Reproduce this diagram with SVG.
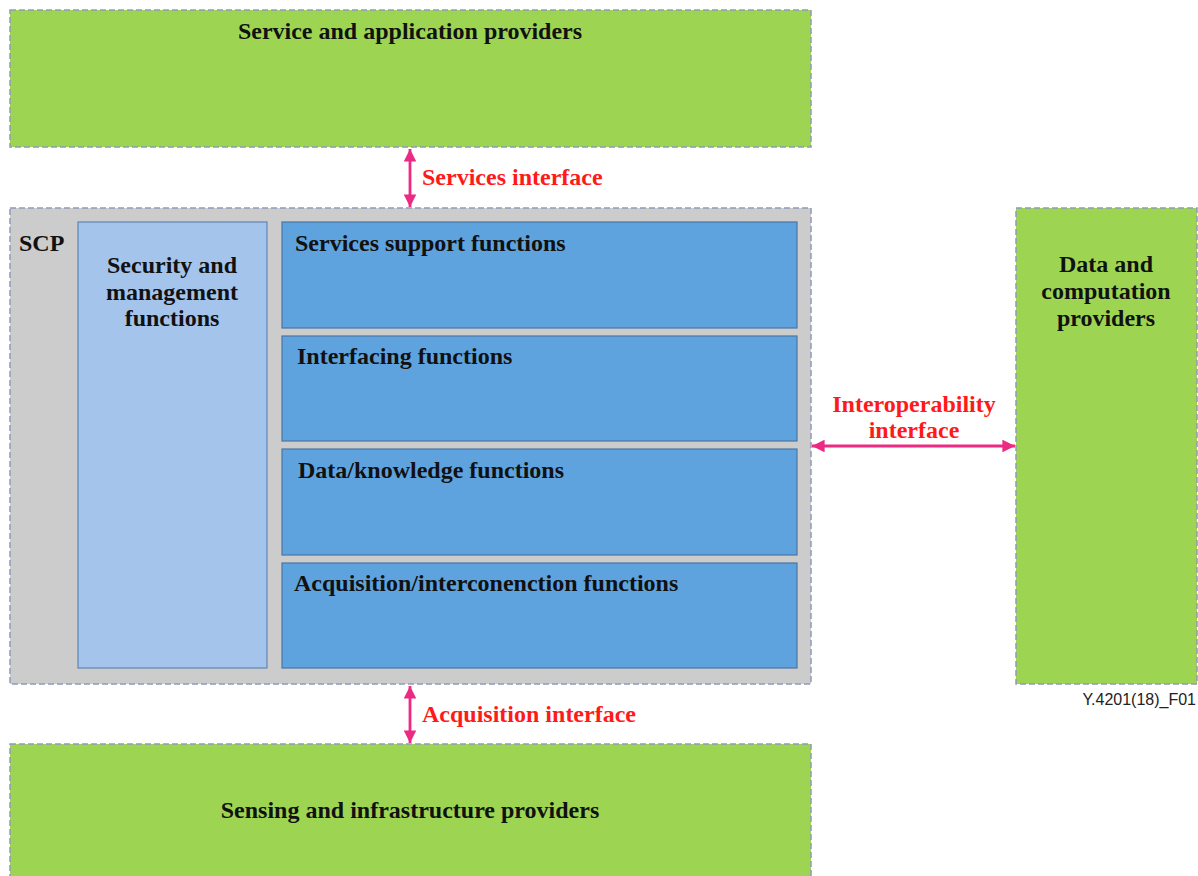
<svg xmlns="http://www.w3.org/2000/svg" width="1198" height="876" viewBox="0 0 1198 876">
  <defs>
    <style>
      .prov { fill: #9dd552; stroke: #8e9bb8; stroke-width: 1.5; stroke-dasharray: 6 3; }
      .scp { fill: #cccccc; stroke: #8e9bb8; stroke-width: 1.5; stroke-dasharray: 6 3; }
      .mgmt { fill: #a4c4ec; stroke: #5f86b4; stroke-width: 1.2; }
      .func { fill: #5fa3de; stroke: #4a76a4; stroke-width: 1.2; }
      .t { font-family: "Liberation Serif", "Times New Roman", serif; font-weight: bold; font-size: 24px; fill: #111111; }
      .c { text-anchor: middle; }
      .if { font-family: "Liberation Serif", "Times New Roman", serif; font-weight: bold; font-size: 24px; fill: #ff1a1a; }
      .conn { stroke: #ec2a84; stroke-width: 2.8; fill: none; marker-start: url(#ah); marker-end: url(#ah); }
      .ref { font-family: "Liberation Sans", Arial, sans-serif; font-size: 16px; fill: #222222; text-anchor: end; }
    </style>
    <marker id="ah" viewBox="0 0 10 10" refX="10" refY="5" markerWidth="4.5" markerHeight="4.5" orient="auto-start-reverse" markerUnits="strokeWidth">
      <path d="M0,0 L10,5 L0,10 z" fill="#ec2a84"/>
    </marker>
  </defs>

  <g id="service-providers">
    <rect class="prov" x="10" y="10" width="801" height="137"/>
    <text class="t c" x="410" y="39">Service and application providers</text>
  </g>

  <g id="scp">
    <rect class="scp" x="10" y="208" width="801" height="476"/>
    <text class="t" x="19" y="251">SCP</text>
  </g>

  <g id="security-management">
    <rect class="mgmt" x="78" y="222" width="189" height="446"/>
    <text class="t c" x="172" y="273">Security and</text>
    <text class="t c" x="172" y="300">management</text>
    <text class="t c" x="172" y="326">functions</text>
  </g>

  <g id="services-support">
    <rect class="func" x="282" y="222" width="515" height="106"/>
    <text class="t" x="295" y="251">Services support functions</text>
  </g>

  <g id="interfacing">
    <rect class="func" x="282" y="336" width="515" height="105"/>
    <text class="t" x="297" y="364">Interfacing functions</text>
  </g>

  <g id="data-knowledge">
    <rect class="func" x="282" y="449" width="515" height="106"/>
    <text class="t" x="298" y="478">Data/knowledge functions</text>
  </g>

  <g id="acquisition-interconnection">
    <rect class="func" x="282" y="563" width="515" height="105"/>
    <text class="t" x="294" y="591">Acquisition/interconenction functions</text>
  </g>

  <g id="data-computation-providers">
    <rect class="prov" x="1016" y="208" width="181" height="476"/>
    <text class="t c" x="1106" y="272">Data and</text>
    <text class="t c" x="1106" y="299">computation</text>
    <text class="t c" x="1106" y="326">providers</text>
  </g>

  <g id="sensing-providers">
    <rect class="prov" x="10" y="744" width="801" height="140"/>
    <text class="t c" x="410" y="818">Sensing and infrastructure providers</text>
  </g>

  <g id="connectors">
    <line class="conn" x1="410" y1="149" x2="410" y2="207"/>
    <line class="conn" x1="410" y1="686" x2="410" y2="743"/>
    <line class="conn" x1="812" y1="446" x2="1015" y2="446"/>
    <text class="if" x="422" y="185">Services interface</text>
    <text class="if" x="422" y="722">Acquisition interface</text>
    <text class="if c" x="914" y="412">Interoperability</text>
    <text class="if c" x="914" y="438">interface</text>
  </g>

  <text class="ref" x="1196" y="705">Y.4201(18)_F01</text>
</svg>
